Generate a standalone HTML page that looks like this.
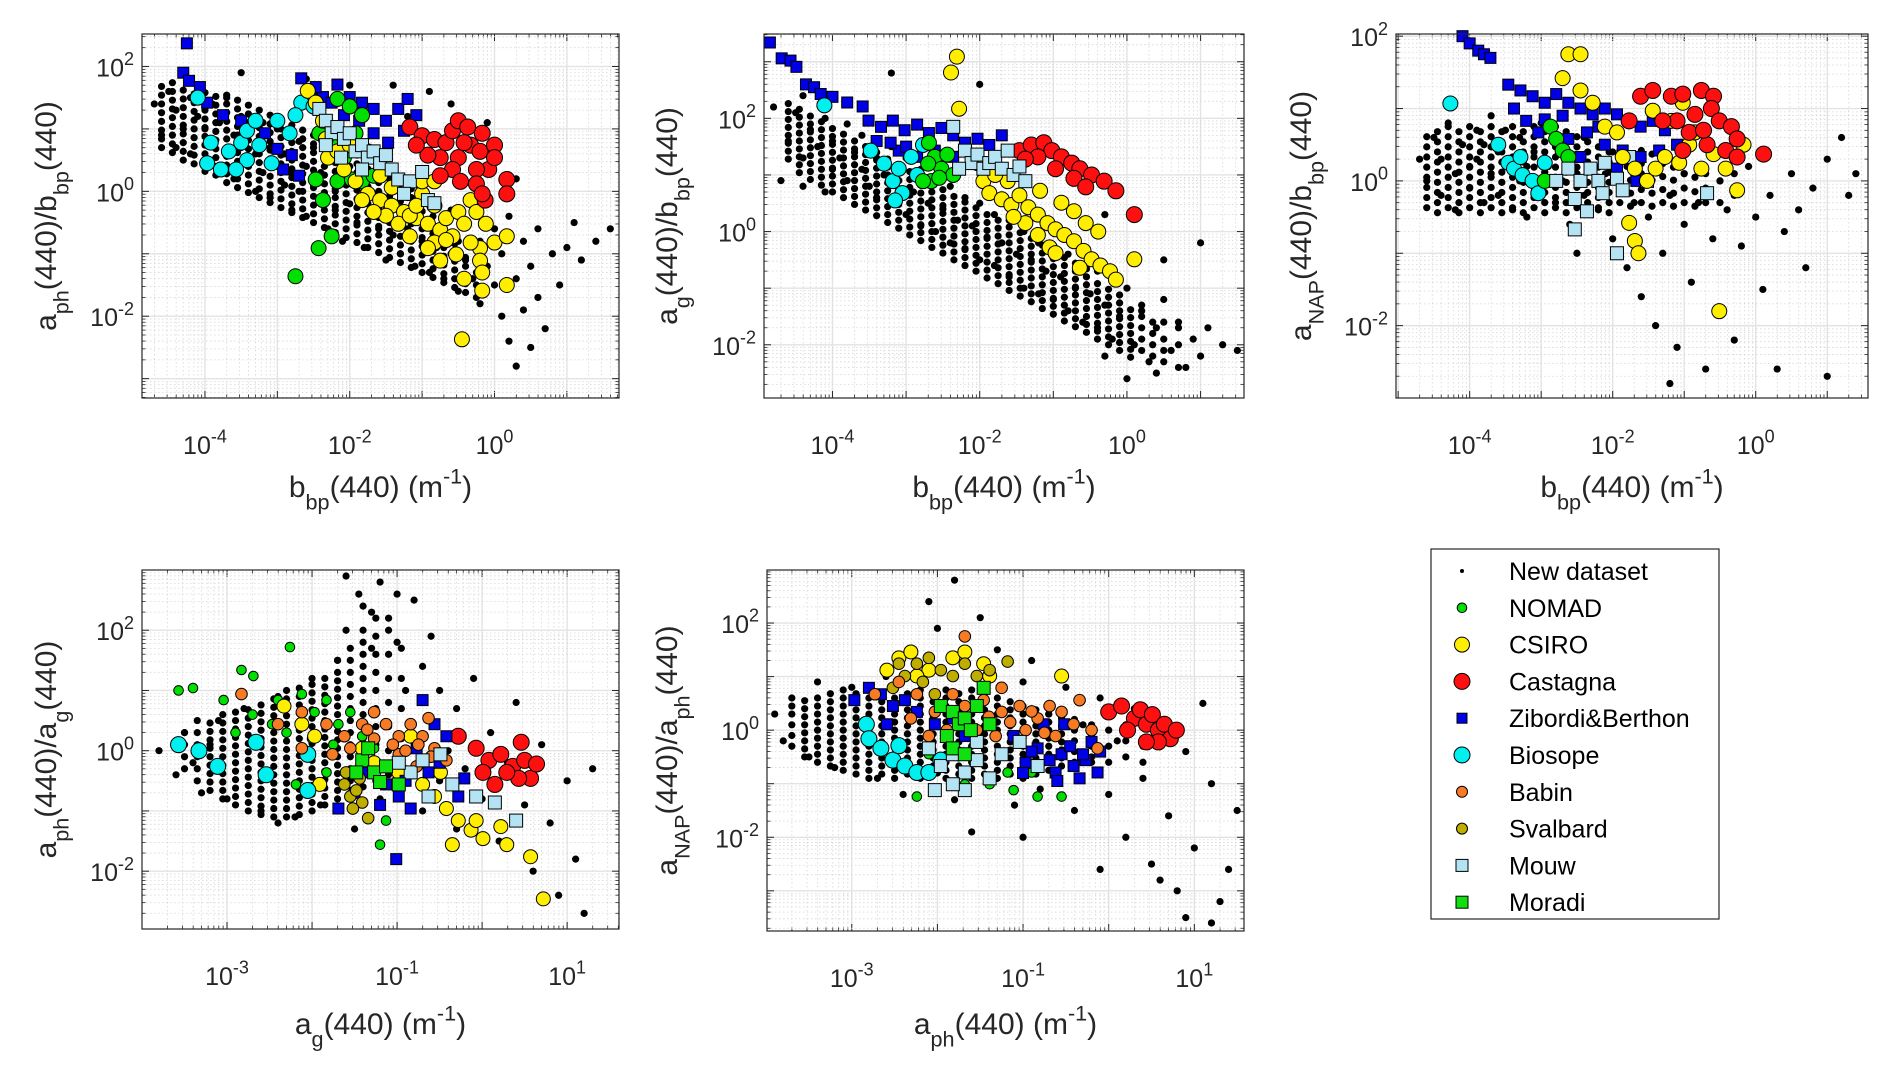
<!DOCTYPE html>
<html><head><meta charset="utf-8"><style>
html,body{margin:0;padding:0;background:#fff;}
svg{display:block;font-family:"Liberation Sans",sans-serif;}
</style></head><body>
<svg id="fig" width="1892" height="1079" viewBox="0 0 1892 1079" xmlns="http://www.w3.org/2000/svg"></svg>
<script>
// ---------- DATA (log10 values) ----------
const p1_new=[[-4.7,1.4],[-4.6,0.9],[-4.5,1.6],[-4.4,0.7],[-4.4,1.3],[-4.3,1.0],[-4.2,1.5],[-4.2,0.6],[-4.1,1.2],[-4.0,0.5],[-4.0,1.0],[-3.9,1.4],[-3.9,0.8],[-3.8,0.3],[-3.8,1.1],[-3.7,0.6],[-3.7,1.5],[-3.6,0.9],[-3.6,0.2],[-3.5,0.7],[-3.5,1.2],[-3.4,0.4],[-3.4,0.9],[-3.3,0.0],[-3.3,0.6],[-3.2,1.1],[-3.2,0.3],[-3.1,0.7],[-3.1,-0.1],[-3.0,0.4],[-3.0,1.0],[-2.9,0.1],[-2.9,0.6],[-2.8,-0.3],[-2.8,0.3],[-2.7,0.8],[-2.7,0.0],[-2.6,0.4],[-2.6,-0.4],[-2.5,0.1],[-2.5,0.7],[-2.4,-0.2],[-2.4,0.3],[-2.3,-0.6],[-2.3,0.5],[-2.2,0.0],[-2.2,-0.3],[-2.1,0.3],[-2.1,-0.8],[-2.0,-0.2],[-2.0,0.4],[-1.9,-0.5],[-1.9,0.1],[-1.8,-0.9],[-1.8,0.0],[-1.7,-0.3],[-1.7,0.5],[-1.6,-0.6],[-1.6,-0.1],[-1.5,-1.1],[-1.5,-0.3],[-1.4,0.2],[-1.4,-0.7],[-1.3,-0.4],[-1.3,-1.0],[-1.2,-0.1],[-1.2,-0.6],[-1.1,-1.2],[-1.1,-0.4],[-1.0,-0.8],[-1.0,0.0],[-0.9,-0.5],[-0.9,-1.3],[-0.8,-0.9],[-0.8,-0.2],[-0.7,-0.6],[-0.7,-1.4],[-0.6,-1.0],[-0.6,-0.3],[-0.5,-0.8],[-0.5,-1.6],[-0.4,-1.1],[-0.4,-0.5],[-0.3,-1.4],[-0.2,-0.8],[-0.2,-1.8],[-0.1,-1.2],[0.0,-0.6],[0.0,-1.5],[0.1,-2.0],[0.1,-1.0],[0.2,-2.4],[0.2,-0.4],[0.3,-1.4],[0.3,-2.8],[0.4,-1.9],[0.4,-0.8],[0.5,-2.5],[0.5,-1.2],[0.6,-0.6],[0.6,-1.7],[0.7,-2.2],[0.8,-1.0],[0.9,-1.5],[1.0,-0.9],[1.1,-0.5],[1.2,-1.1],[1.4,-0.8],[1.6,-0.6],[-3.5,1.9],[-2.6,1.8],[-1.4,1.7],[-0.9,1.6],[-0.6,1.4],[-0.3,1.0],[0.0,0.5],[0.3,0.2],[-2.0,1.7],[-1.2,1.2],[-0.1,1.1]];
const p1_core="-4.6:0.7,0.84,0.98,1.12,1.26,1.4,1.54,1.68;-4.45:0.62,0.76,0.9,1.04,1.18,1.32,1.46,1.6,1.74;-4.3:0.5,0.64,0.78,0.92,1.06,1.2,1.34,1.48,1.62;-4.15:0.44,0.58,0.72,0.86,1.0,1.14,1.28,1.42,1.56;-4.0:0.32,0.46,0.6,0.74,0.88,1.02,1.16,1.3,1.44,1.58;-3.85:0.26,0.4,0.54,0.68,0.82,0.96,1.1,1.24,1.38,1.52;-3.7:0.14,0.28,0.42,0.56,0.7,0.84,0.98,1.12,1.26,1.4,1.54;-3.55:0.06,0.2,0.34,0.48,0.62,0.76,0.9,1.04,1.18,1.32,1.46;-3.4:-0.02,0.12,0.26,0.4,0.54,0.68,0.82,0.96,1.1,1.24,1.38;-3.25:-0.1,0.04,0.18,0.32,0.46,0.6,0.74,0.88,1.02,1.16,1.3;-3.1:-0.18,-0.04,0.1,0.24,0.38,0.52,0.66,0.8,0.94,1.08,1.22;-2.95:-0.26,-0.12,0.02,0.16,0.3,0.44,0.58,0.72,0.86,1.0,1.14;-2.8:-0.34,-0.2,-0.06,0.08,0.22,0.36,0.5,0.64,0.78,0.92,1.06;-2.65:-0.42,-0.28,-0.14,0.0,0.14,0.28,0.42,0.56,0.7,0.84,0.98;-2.5:-0.5,-0.36,-0.22,-0.08,0.06,0.2,0.34,0.48,0.62,0.76,0.9;-2.35:-0.58,-0.44,-0.3,-0.16,-0.02,0.12,0.26,0.4,0.54,0.68,0.82;-2.2:-0.66,-0.52,-0.38,-0.24,-0.1,0.04,0.18,0.32,0.46,0.6,0.74;-2.05:-0.74,-0.6,-0.46,-0.32,-0.18,-0.04,0.1,0.24,0.38,0.52,0.66;-1.9:-0.82,-0.68,-0.54,-0.4,-0.26,-0.12,0.02,0.16,0.3,0.44,0.58;-1.75:-0.9,-0.76,-0.62,-0.48,-0.34,-0.2,-0.06,0.08,0.22,0.36,0.5;-1.6:-0.98,-0.84,-0.7,-0.56,-0.42,-0.28,-0.14,0.0,0.14,0.28,0.42;-1.45:-1.06,-0.92,-0.78,-0.64,-0.5,-0.36,-0.22,-0.08,0.06,0.2,0.34;-1.3:-1.14,-1.0,-0.86,-0.72,-0.58,-0.44,-0.3,-0.16,-0.02,0.12;-1.15:-1.22,-1.08,-0.94,-0.8,-0.66,-0.52,-0.38,-0.24,-0.1,0.04;-1.0:-1.3,-1.16,-1.02,-0.88,-0.74,-0.6,-0.46,-0.32,-0.18;-0.85:-1.38,-1.24,-1.1,-0.96,-0.82,-0.68,-0.54,-0.4;-0.7:-1.46,-1.32,-1.18,-1.04,-0.9,-0.76,-0.62;-0.55:-1.54,-1.4,-1.26,-1.12,-0.98,-0.84;-0.4:-1.62,-1.48,-1.34,-1.2,-1.06;-0.25:-1.7,-1.5,-1.3";
const p1_zib=[[-4.25,2.37],[-4.3,1.9],[-4.22,1.77],[-4.07,1.67],[-3.97,1.42],[-3.75,1.22],[-3.5,1.13],[-3.17,0.93],[-3.0,0.68],[-2.92,0.35],[-2.7,0.25],[-2.8,0.58],[-2.67,1.81],[-2.53,1.61],[-2.37,1.51],[-2.25,1.42],[-2.0,1.51],[-1.83,1.42],[-1.67,1.32],[-1.5,1.13],[-1.33,1.32],[-1.2,1.48],[-1.08,1.22],[-1.25,0.97],[-1.47,0.78],[-1.67,0.93],[-1.87,1.13],[-2.08,1.22],[-2.17,1.71],[-2.47,1.67]];
const p1_bio=[[-4.1,1.5],[-3.92,0.78],[-3.97,0.45],[-3.78,0.35],[-3.67,0.64],[-3.5,0.78],[-3.42,0.97],[-3.3,1.13],[-3.42,0.5],[-3.25,0.74],[-3.57,0.35],[-3.0,1.13],[-2.83,0.93],[-2.67,1.42],[-2.75,1.22],[-3.08,0.45],[-2.5,1.36]];
const p1_nomad=[[-2.75,-1.36],[-2.43,-0.91],[-2.25,-0.72],[-2.47,0.19],[-2.37,-0.14],[-2.17,0.16],[-1.97,0.19],[-1.83,0.16],[-1.67,0.25],[-2.08,0.54],[-2.25,0.74],[-2.42,0.93],[-2.17,1.48],[-2.0,1.36],[-1.83,1.22],[-1.92,0.93],[-1.75,0.64]];
const p1_csiro=[[-2.58,1.61],[-2.47,1.42],[-2.37,1.13],[-2.33,0.84],[-2.3,0.54],[-2.08,0.35],[-1.92,0.16],[-1.75,-0.04],[-1.58,-0.14],[-1.42,-0.23],[-1.25,-0.33],[-1.08,-0.43],[-0.92,-0.52],[-0.75,-0.62],[-0.67,-0.43],[-0.5,-0.33],[-0.83,-0.23],[-1.0,-0.04],[-1.17,-0.72],[-1.33,-0.52],[-1.5,-0.39],[-1.67,-0.33],[-1.83,-0.14],[-0.83,-0.82],[-0.58,-0.72],[-0.42,-0.52],[-0.33,-0.14],[-0.25,-0.33],[-0.12,-0.52],[0,-0.82],[-0.2,-0.91],[-0.2,-1.11],[-0.17,-1.3],[-0.42,-1.4],[0.17,-0.72],[0.17,-1.5],[-0.17,-1.59],[-0.45,-2.37],[-1.17,-0.39],[-1.42,0.06],[-1.58,0.25],[-1.0,0.16],[-0.83,0.16],[-2.17,0.64],[-2.0,0.74],[-1.08,-0.23],[-0.67,-0.78],[-0.92,-0.91],[-0.75,-1.11],[-0.53,-1.01],[-0.33,-0.82]];
const p1_cast=[[-1.17,1.03],[-1.0,0.89],[-0.83,0.83],[-0.67,0.78],[-0.58,0.97],[-0.5,0.54],[-0.33,0.74],[-0.17,0.93],[-0.2,0.64],[0.0,0.74],[-0.08,0.35],[-0.25,0.35],[-0.42,0.78],[-0.75,0.54],[-0.92,0.58],[-0.58,0.35],[-0.25,0.12],[-0.13,-0.14],[0.17,0.19],[0.17,-0.04],[-0.17,-0.04],[-0.75,0.25],[-1.08,0.74],[-0.5,1.13],[-0.37,1.03],[0,0.54],[-0.47,0.16]];
const p1_mouw=[[-2.42,1.32],[-2.33,1.13],[-2.25,0.93],[-2.17,1.03],[-2.08,0.84],[-2.0,0.93],[-1.92,0.64],[-1.83,0.74],[-1.75,0.54],[-1.67,0.64],[-1.58,0.45],[-1.5,0.58],[-1.42,0.35],[-1.33,0.19],[-1.17,0.16],[-1.0,0.31],[-0.92,-0.14],[-0.83,-0.19],[-1.25,-0.04],[-1.83,0.35],[-2.33,0.74],[-2.12,0.54]];

const p2_new=[[-4.8,2.2],[-4.6,1.6],[-4.5,2.1],[-4.4,1.3],[-4.3,1.8],[-4.2,1.5],[-4.1,2.0],[-4.0,1.1],[-4.0,1.6],[-3.9,1.3],[-3.8,1.9],[-3.8,0.9],[-3.7,1.4],[-3.6,1.1],[-3.6,1.7],[-3.5,0.8],[-3.4,1.3],[-3.4,0.6],[-3.3,1.0],[-3.2,1.5],[-3.2,0.5],[-3.1,0.9],[-3.0,1.3],[-3.0,0.3],[-2.9,0.7],[-2.8,1.1],[-2.8,0.1],[-2.7,0.5],[-2.6,0.9],[-2.6,0.0],[-2.5,0.4],[-2.4,0.8],[-2.4,-0.2],[-2.3,0.2],[-2.2,0.6],[-2.2,-0.3],[-2.1,0.1],[-2.0,0.5],[-2.0,-0.5],[-1.9,-0.1],[-1.8,0.3],[-1.8,-0.6],[-1.7,-0.2],[-1.6,0.2],[-1.6,-0.8],[-1.5,-0.4],[-1.4,0.0],[-1.4,-1.0],[-1.3,-0.5],[-1.2,-0.2],[-1.2,-1.1],[-1.1,-0.7],[-1.0,-0.3],[-1.0,-1.2],[-0.9,-0.8],[-0.8,-0.4],[-0.8,-1.4],[-0.7,-1.0],[-0.6,-0.6],[-0.6,-1.6],[-0.5,-1.1],[-0.4,-0.7],[-0.4,-1.7],[-0.3,-1.3],[-0.2,-0.8],[-0.2,-1.9],[-0.1,-1.5],[0.0,-1.0],[0.1,-2.0],[0.2,-1.4],[0.3,-2.3],[0.4,-1.7],[0.5,-1.2],[0.6,-2.1],[0.7,-1.6],[0.8,-2.4],[0.9,-1.9],[1.0,-2.2],[1.1,-1.7],[1.3,-2.0],[1.5,-2.1],[0.4,-2.5],[0.0,-2.6],[-0.3,-2.2],[-3.2,2.8],[-2.0,2.6],[-4.4,2.4],[-1.0,1.5],[-0.3,0.3],[0.5,-0.5],[1.0,-0.2],[-4.7,0.9],[-4.4,0.8],[-4.1,0.7]];
const p2_core="-4.6:1.28,1.42,1.56,1.7,1.84,1.98,2.12,2.26;-4.45:1.04,1.18,1.32,1.46,1.6,1.74,1.88,2.02,2.16;-4.3:0.92,1.06,1.2,1.34,1.48,1.62,1.76,1.9,2.04;-4.15:0.82,0.96,1.1,1.24,1.38,1.52,1.66,1.8,1.94;-4.0:0.7,0.84,0.98,1.12,1.26,1.4,1.54,1.68,1.82;-3.85:0.6,0.74,0.88,1.02,1.16,1.3,1.44,1.58,1.72;-3.7:0.48,0.62,0.76,0.9,1.04,1.18,1.32,1.46,1.6;-3.55:0.38,0.52,0.66,0.8,0.94,1.08,1.22,1.36,1.5;-3.4:0.28,0.42,0.56,0.7,0.84,0.98,1.12,1.26,1.4;-3.25:0.16,0.3,0.44,0.58,0.72,0.86,1.0,1.14,1.28;-3.1:0.06,0.2,0.34,0.48,0.62,0.76,0.9,1.04,1.18;-2.95:-0.06,0.08,0.22,0.36,0.5,0.64,0.78,0.92,1.06;-2.8:-0.16,-0.02,0.12,0.26,0.4,0.54,0.68,0.82,0.96;-2.65:-0.28,-0.14,0.0,0.14,0.28,0.42,0.56,0.7,0.84;-2.5:-0.38,-0.24,-0.1,0.04,0.18,0.32,0.46,0.6,0.74;-2.35:-0.5,-0.36,-0.22,-0.08,0.06,0.2,0.34,0.48,0.62;-2.2:-0.6,-0.46,-0.32,-0.18,-0.04,0.1,0.24,0.38,0.52;-2.05:-0.7,-0.56,-0.42,-0.28,-0.14,0.0,0.14,0.28,0.42;-1.9:-0.82,-0.68,-0.54,-0.4,-0.26,-0.12,0.02,0.16,0.3;-1.75:-0.92,-0.78,-0.64,-0.5,-0.36,-0.22,-0.08,0.06,0.2;-1.6:-1.04,-0.9,-0.76,-0.62,-0.48,-0.34,-0.2,-0.06,0.08;-1.45:-1.14,-1.0,-0.86,-0.72,-0.58,-0.44,-0.3,-0.16,-0.02;-1.3:-1.24,-1.1,-0.96,-0.82,-0.68,-0.54,-0.4,-0.26,-0.12;-1.15:-1.36,-1.22,-1.08,-0.94,-0.8,-0.66,-0.52,-0.38,-0.24;-1.0:-1.46,-1.32,-1.18,-1.04,-0.9,-0.76,-0.62,-0.48,-0.34;-0.85:-1.58,-1.44,-1.3,-1.16,-1.02,-0.88,-0.74,-0.6,-0.46;-0.7:-1.68,-1.54,-1.4,-1.26,-1.12,-0.98,-0.84,-0.7,-0.56;-0.55:-1.78,-1.64,-1.5,-1.36,-1.22,-1.08,-0.94,-0.8,-0.66;-0.4:-1.9,-1.76,-1.62,-1.48,-1.34,-1.2,-1.06,-0.92;-0.25:-2.0,-1.86,-1.72,-1.58,-1.44,-1.3,-1.16,-1.02;-0.1:-2.1,-1.96,-1.82,-1.68,-1.54,-1.4,-1.26,-1.12;0.05:-2.22,-2.08,-1.94,-1.8,-1.66,-1.52,-1.38;0.2:-2.1,-1.9,-1.7,-1.5,-1.3;0.35:-2.2,-2.0,-1.8,-1.6;0.5:-2.3,-2.1,-1.9,-1.6;0.7:-2.4,-2.0,-1.7";
const p2_zib=[[-4.85,3.34],[-4.69,3.06],[-4.57,3.02],[-4.49,2.91],[-4.36,2.6],[-4.25,2.55],[-4.16,2.43],[-4.0,2.38],[-3.8,2.28],[-3.59,2.21],[-3.51,1.96],[-3.34,1.85],[-3.18,1.96],[-3.02,1.79],[-2.85,1.89],[-2.69,1.74],[-2.52,1.83],[-2.36,1.7],[-2.2,1.57],[-2.03,1.64],[-1.87,1.53],[-1.7,1.7],[-3.1,1.43],[-2.85,1.32],[-2.61,1.43],[-2.36,1.32],[-2.11,1.36],[-3.21,1.57],[-3.4,1.6],[-3.0,1.5],[-2.75,1.55]];
const p2_bio=[[-4.11,2.23],[-3.48,1.43],[-3.18,0.89],[-3.1,1.11],[-2.93,1.32],[-3.05,0.68],[-2.77,1.53],[-2.85,1.0],[-3.3,1.2],[-3.15,0.55]];
const p2_nomad=[[-2.69,1.57],[-2.61,1.32],[-2.52,1.11],[-2.66,0.89],[-2.77,0.89],[-2.44,1.36],[-2.36,1.0],[-2.7,1.2],[-2.55,0.95]];
const p2_mouw=[[-2.36,1.85],[-2.2,1.43],[-2.11,1.21],[-2.03,1.36],[-1.95,1.11],[-1.87,1.21],[-1.79,1.32],[-1.7,1.11],[-1.62,1.43],[-1.54,1.0],[-1.46,1.15],[-2.28,1.11],[-1.38,0.89]];
const p2_cast=[[-1.46,1.43],[-1.3,1.53],[-1.13,1.57],[-1.02,1.43],[-0.89,1.32],[-0.75,1.21],[-0.64,1.11],[-0.48,1.0],[-0.31,0.89],[-0.15,0.72],[0.1,0.3],[-1.21,1.32],[-0.97,1.11],[-0.72,0.94],[-0.56,0.79],[-1.38,1.28]];
const p2_csiro=[[-2.31,3.09],[-2.39,2.81],[-2.28,2.17],[-2.03,1.21],[-1.95,0.89],[-1.87,0.68],[-1.7,0.57],[-1.57,0.47],[-1.46,0.64],[-1.34,0.43],[-1.21,0.3],[-1.08,0.15],[-0.97,0.04],[-0.85,-0.06],[-0.72,-0.17],[-0.59,-0.34],[-0.48,-0.49],[-0.36,-0.6],[-0.23,-0.7],[-0.15,-0.85],[0.1,-0.49],[-1.05,-0.28],[-1.21,-0.06],[-1.38,0.15],[-1.54,0.26],[-0.89,0.51],[-0.72,0.36],[-0.56,0.15],[-0.39,0.0],[-1.62,0.89],[-1.79,1.0],[-1.18,0.72],[-0.97,-0.38],[-0.64,-0.64]];

const p3_new=[[-4.7,0.3],[-4.6,0.0],[-4.5,0.6],[-4.4,-0.2],[-4.4,0.3],[-4.3,0.8],[-4.2,0.1],[-4.2,-0.4],[-4.1,0.5],[-4.0,0.2],[-4.0,-0.1],[-3.9,0.7],[-3.9,0.3],[-3.8,-0.3],[-3.8,0.5],[-3.7,0.1],[-3.7,0.9],[-3.6,0.4],[-3.6,-0.2],[-3.5,0.2],[-3.5,0.7],[-3.4,-0.4],[-3.4,0.3],[-3.3,0.0],[-3.3,0.6],[-3.2,0.2],[-3.2,-0.5],[-3.1,0.4],[-3.0,-0.1],[-3.0,0.8],[-2.9,0.2],[-2.8,-0.3],[-2.8,0.5],[-2.7,0.0],[-2.6,0.3],[-2.6,-0.6],[-2.5,0.1],[-2.4,-0.2],[-2.4,0.6],[-2.3,0.2],[-2.2,-0.4],[-2.1,0.1],[-2.0,-0.8],[-2.0,0.4],[-1.9,-0.1],[-1.8,-1.2],[-1.8,0.2],[-1.7,-0.3],[-1.6,-1.6],[-1.6,0.1],[-1.5,-0.5],[-1.4,-2.0],[-1.4,0.2],[-1.3,-1.0],[-1.2,-0.2],[-1.1,-2.3],[-1.0,-0.6],[-1.0,0.1],[-0.9,-1.4],[-0.8,-0.3],[-0.7,-2.6],[-0.6,-0.8],[-0.5,0.0],[-0.5,-1.8],[-0.4,-0.4],[-0.3,-2.2],[-0.2,-0.9],[-0.1,0.2],[0.0,-0.5],[0.1,-1.5],[0.2,-0.2],[0.3,-2.6],[0.4,-0.7],[0.5,0.1],[0.6,-0.4],[0.7,-1.2],[0.8,-0.1],[1.0,0.3],[1.0,-2.7],[1.2,0.6],[1.3,-0.2],[1.4,0.1],[-1.2,-2.8],[-2.5,-1.0]];
const p3_core="-4.6:-0.37,-0.23,-0.09,0.05,0.19,0.33,0.47,0.61;-4.45:-0.44,-0.3,-0.16,-0.02,0.12,0.26,0.4,0.54,0.68;-4.3:-0.37,-0.23,-0.09,0.05,0.19,0.33,0.47,0.61,0.75;-4.15:-0.44,-0.3,-0.16,-0.02,0.12,0.26,0.4,0.54,0.68;-4.0:-0.37,-0.23,-0.09,0.05,0.19,0.33,0.47,0.61,0.75;-3.85:-0.44,-0.3,-0.16,-0.02,0.12,0.26,0.4,0.54,0.68;-3.7:-0.37,-0.23,-0.09,0.05,0.19,0.33,0.47,0.61,0.75;-3.55:-0.44,-0.3,-0.16,-0.02,0.12,0.26,0.4,0.54,0.68;-3.4:-0.37,-0.23,-0.09,0.05,0.19,0.33,0.47,0.61,0.75;-3.25:-0.44,-0.3,-0.16,-0.02,0.12,0.26,0.4,0.54,0.68;-3.1:-0.37,-0.23,-0.09,0.05,0.19,0.33,0.47,0.61,0.75;-2.95:-0.44,-0.3,-0.16,-0.02,0.12,0.26,0.4,0.54,0.68;-2.8:-0.37,-0.23,-0.09,0.05,0.19,0.33,0.47,0.61,0.75;-2.65:-0.44,-0.3,-0.16,-0.02,0.12,0.26,0.4,0.54,0.68;-2.5:-0.37,-0.23,-0.09,0.05,0.19,0.33,0.47,0.61;-2.35:-0.44,-0.3,-0.16,-0.02,0.12,0.26,0.4,0.54;-2.2:-0.37,-0.23,-0.09,0.05,0.19,0.33,0.47;-2.05:-0.44,-0.3,-0.16,-0.02,0.12,0.26,0.4;-1.9:-0.3,-0.12,0.06,0.24,0.42;-1.75:-0.35,-0.17,0.01,0.19,0.37;-1.6:-0.3,-0.12,0.06,0.24,0.42;-1.45:-0.35,-0.17,0.01,0.19,0.37;-1.3:-0.3,-0.12,0.06,0.24;-1.15:-0.35,-0.17,0.01,0.19;-1.0:-0.3,-0.1,0.1;-0.85:-0.35,-0.15,0.05;-0.7:-0.3,-0.1,0.1;-0.5:-0.3,0.0;-0.3:-0.2,0.1";
const p3_zib=[[-4.1,2.0],[-4.0,1.9],[-3.88,1.8],[-3.8,1.75],[-3.71,1.7],[-3.46,1.33],[-3.29,1.25],[-3.12,1.17],[-2.95,1.08],[-2.79,1.2],[-2.62,1.08],[-2.45,1.0],[-2.28,0.92],[-2.11,1.0],[-1.94,0.92],[-1.77,0.83],[-1.61,0.75],[-1.44,0.83],[-1.27,0.7],[-3.38,1.0],[-3.21,0.83],[-3.04,0.67],[-2.87,0.75],[-2.62,0.58],[-2.36,0.67],[-2.11,0.5],[-1.86,0.42],[-1.61,0.33],[-1.35,0.42],[-1.1,0.5],[-2.45,0.33],[-1.94,0.17],[-1.67,0.0],[-2.95,0.85],[-2.7,0.9],[-2.2,0.75]];
const p3_bio=[[-4.27,1.07],[-3.6,0.5],[-3.46,0.25],[-3.38,0.17],[-3.26,0.08],[-3.12,0.0],[-3.04,-0.17],[-3.29,0.33],[-2.95,0.25]];
const p3_csiro=[[-2.62,1.75],[-2.45,1.75],[-2.7,1.42],[-2.45,1.25],[-2.28,1.08],[-2.11,0.75],[-1.94,0.67],[-1.86,0.33],[-1.69,0.17],[-1.52,0.0],[-1.4,0.17],[-1.27,0.33],[-1.07,0.25],[-0.93,0.5],[-0.76,0.17],[-0.59,0.37],[-0.42,0.17],[-0.26,-0.13],[-1.77,-0.58],[-1.69,-0.83],[-1.64,-1.0],[-0.51,-1.8],[-1.44,0.97],[-1.18,0.83],[-1.02,1.08],[-0.85,0.67],[-0.17,0.5]];
const p3_cast=[[-1.61,1.17],[-1.44,1.25],[-1.18,1.17],[-1.02,1.2],[-0.76,1.25],[-0.59,1.17],[-0.62,1.0],[-0.85,0.92],[-1.1,0.83],[-1.3,0.83],[-0.51,0.83],[-0.34,0.75],[-0.26,0.58],[-0.93,0.67],[-0.68,0.5],[-1.02,0.42],[-0.42,0.42],[-0.73,0.7],[0.11,0.37],[-0.26,0.33],[-1.77,0.83]];
const p3_mouw=[[-2.62,0.17],[-2.45,0.0],[-2.31,0.17],[-2.2,0.0],[-2.11,0.25],[-1.94,0.03],[-2.53,-0.25],[-2.36,-0.42],[-2.14,-0.17],[-1.86,-0.13],[-1.52,0.0],[-1.94,-1.0],[-2.53,-0.67],[-0.68,-0.17],[-1.77,0.33],[-2.79,0.0]];
const p3_nomad=[[-2.87,0.75],[-2.79,0.58],[-2.7,0.42],[-2.95,0.0],[-2.62,0.33]];

const p4_new=[[-3.8,0.0],[-3.6,-0.4],[-3.5,0.3],[-3.4,-0.2],[-3.3,-0.7],[-3.2,0.1],[-3.1,0.5],[-3.0,-0.8],[-2.8,0.7],[-2.6,-1.0],[-2.4,0.9],[-2.2,-1.1],[-2.0,1.2],[-1.9,-0.9],[-1.7,1.5],[-1.6,2.0],[-1.4,2.4],[-1.3,1.7],[-1.2,2.8],[-1.2,-0.8],[-1.1,2.2],[-1.0,1.8],[-0.9,-0.3],[-0.9,1.0],[-0.8,2.5],[-0.8,0.2],[-0.7,-1.0],[-0.7,1.4],[-0.6,0.5],[-0.5,-0.5],[-0.5,1.0],[-0.4,0.0],[-0.3,-1.3],[-0.3,0.7],[-0.2,-0.3],[-0.1,1.2],[0.0,-0.8],[0.1,0.3],[0.2,-1.5],[0.3,-0.2],[0.4,0.8],[0.5,-0.9],[0.6,-2.0],[0.7,0.1],[0.8,-1.2],[0.9,-2.4],[1.0,-0.5],[1.1,-1.8],[1.2,-2.7],[1.3,-0.3],[-1.5,-1.3],[-2.4,-1.2],[-1.3,2.3],[-1.6,2.9],[-1.0,2.6],[-0.6,1.9],[-1.45,2.6]];
const p4_core="-3.5:-0.3,-0.1,0.1,0.3;-3.35:-0.5,-0.3,-0.1,0.1,0.3,0.5;-3.2:-0.66,-0.52,-0.38,-0.24,-0.1,0.04,0.18,0.32,0.46;-3.05:-0.8,-0.66,-0.52,-0.38,-0.24,-0.1,0.04,0.18,0.32,0.46,0.6;-2.9:-0.9,-0.76,-0.62,-0.48,-0.34,-0.2,-0.06,0.08,0.22,0.36,0.5,0.64;-2.75:-1.0,-0.86,-0.72,-0.58,-0.44,-0.3,-0.16,-0.02,0.12,0.26,0.4,0.54,0.68;-2.6:-1.06,-0.92,-0.78,-0.64,-0.5,-0.36,-0.22,-0.08,0.06,0.2,0.34,0.48,0.62,0.76;-2.45:-1.1,-0.96,-0.82,-0.68,-0.54,-0.4,-0.26,-0.12,0.02,0.16,0.3,0.44,0.58,0.72,0.86;-2.3:-1.1,-0.96,-0.82,-0.68,-0.54,-0.4,-0.26,-0.12,0.02,0.16,0.3,0.44,0.58,0.72,0.86,1.0;-2.15:-1.06,-0.92,-0.78,-0.64,-0.5,-0.36,-0.22,-0.08,0.06,0.2,0.34,0.48,0.62,0.76,0.9,1.04;-2.0:-1.0,-0.86,-0.72,-0.58,-0.44,-0.3,-0.16,-0.02,0.12,0.26,0.4,0.54,0.68,0.82,0.96,1.1;-1.85:-0.9,-0.76,-0.62,-0.48,-0.34,-0.2,-0.06,0.08,0.22,0.36,0.5,0.64,0.78,0.92,1.06,1.2;-1.7:-0.8,-0.66,-0.52,-0.38,-0.24,-0.1,0.04,0.18,0.32,0.46,0.6,0.74,0.88,1.02,1.16,1.3,1.5;-1.55:-0.7,-0.5,-0.3,-0.1,0.1,0.3,0.5,0.7,0.9,1.1,1.3,1.5,1.7;-1.4:-0.6,-0.4,-0.2,0.0,0.2,0.4,0.6,0.8,1.0,1.2,1.4,1.6,1.8,2.0;-1.25:-0.5,-0.2,0.1,0.4,0.7,1.0,1.3,1.6,1.9,2.2;-1.1:-0.4,0.0,0.4,0.8,1.2,1.6,2.0;-0.95:-0.3,0.2,0.7,1.2,1.7";
const p4_nomad=[[-3.57,1.0],[-3.4,1.04],[-3.04,0.84],[-2.83,1.34],[-2.69,1.24],[-2.26,1.72],[-2.4,0.84],[-2.12,0.94],[-1.97,0.64],[-1.83,0.84],[-1.69,0.44],[-1.55,0.64],[-1.41,0.24],[-1.27,0.04],[-2.47,0.44],[-2.62,0.14],[-1.83,-0.36],[-2.19,-0.56],[-1.13,-1.16],[-1.2,-1.56],[-2.9,0.3],[-2.7,0.6],[-2.3,0.3],[-2.0,0.2],[-1.75,0.1]];
const p4_csiro=[[-2.12,0.44],[-1.97,0.24],[-1.91,-0.56],[-1.41,0.04],[-1.27,-0.2],[-0.84,0.24],[-0.7,-0.56],[-0.56,-0.76],[-0.42,-0.96],[-0.28,-1.16],[-0.13,-1.32],[0.01,-1.46],[-0.35,-1.56],[-0.07,-1.16],[0.29,-1.56],[0.57,-1.76],[0.72,-2.46],[-0.49,-0.36],[-0.98,-0.36],[-2.33,0.74],[0.22,-1.26]];
const p4_cast=[[-0.28,0.24],[-0.07,0.04],[0.08,-0.16],[0.22,-0.06],[0.36,-0.26],[0.5,-0.16],[0.57,-0.46],[0.43,-0.46],[0.29,-0.36],[0.15,-0.56],[0.46,0.14],[0.64,-0.22],[0.01,-0.36]];
const p4_zib=[[-0.98,-0.76],[-0.7,0.84],[-0.56,0.44],[-0.42,0.24],[-0.77,0.04],[-0.63,-0.36],[-0.84,-0.96],[-1.13,-0.56],[-1.41,-0.36],[-0.28,-0.76],[-0.21,-0.46],[-1.01,-1.8],[-1.69,-0.96],[-1.5,-0.7],[-1.2,-0.9],[-0.9,-0.5],[-0.5,-0.2]];
const p4_bio=[[-3.57,0.1],[-3.33,0.0],[-3.11,-0.26],[-2.66,0.14],[-2.54,-0.4],[-2.05,-0.66],[-2.05,-0.06]];
const p4_babin=[[-2.4,0.44],[-2.12,0.64],[-1.83,0.44],[-1.62,0.24],[-1.41,0.44],[-1.27,0.64],[-1.13,0.44],[-0.98,0.24],[-0.84,0.44],[-0.7,0.24],[-0.56,0.04],[-0.42,-0.16],[-1.55,0.04],[-1.27,0.2],[-0.98,-0.06],[-0.63,0.54],[-1.76,-0.06],[-2.12,0.04],[-2.83,0.94],[-0.77,-0.26],[-1.05,0.1],[-0.9,0.0],[-0.75,0.1],[-0.6,-0.1],[-1.35,0.35]];
const p4_sval=[[-1.62,-0.56],[-1.55,-0.76],[-1.48,-0.66],[-1.41,-0.86],[-1.52,-0.96],[-1.44,-0.46],[-1.34,-1.12],[-1.6,-0.36]];
const p4_mouw=[[-0.84,-0.36],[-0.7,-0.16],[-0.49,-0.06],[-0.35,-0.56],[-0.07,-0.76],[0.15,-0.86],[0.4,-1.16],[-0.63,-0.76],[-0.98,-0.2]];
const p4_moradi=[[-1.41,-0.16],[-1.27,-0.36],[-1.13,-0.26],[-1.2,-0.52],[-1.34,0.04],[-0.98,-0.56],[-1.48,-0.36]];

const p5_new=[[-3.9,0.3],[-3.8,-0.2],[-3.7,0.6],[-3.5,-0.5],[-3.4,0.9],[-3.2,-0.7],[-3.0,0.8],[-2.7,-0.9],[-2.6,1.0],[-2.4,-1.2],[-2.3,1.4],[-2.1,2.4],[-2.0,-0.8],[-2.0,1.9],[-1.8,2.8],[-1.8,-1.3],[-1.7,1.2],[-1.5,2.1],[-1.4,-1.0],[-1.3,1.5],[-1.1,-1.4],[-1.0,0.9],[-0.9,1.3],[-0.8,-1.1],[-0.7,0.3],[-0.6,-0.8],[-0.5,0.8],[-0.4,-1.5],[-0.3,0.1],[-0.2,-0.6],[-0.1,0.6],[0.0,-1.2],[0.1,-0.2],[0.2,-2.0],[0.3,0.4],[0.4,-0.9],[0.5,-2.5],[0.6,0.0],[0.7,-1.6],[0.8,-3.0],[0.9,-0.4],[1.0,-2.2],[1.1,0.5],[1.2,-1.0],[1.3,-3.2],[1.4,-2.6],[1.5,-1.5],[0.9,-3.5],[0.6,-2.8],[-0.1,-2.6],[-1.0,-2.0],[-1.6,-1.9],[1.2,-3.6]];
const p5_core="-3.7:-0.3,-0.1,0.1,0.3,0.45;-3.55:-0.5,-0.35,-0.2,-0.05,0.1,0.25,0.4,0.55;-3.4:-0.6,-0.45,-0.3,-0.15,0,0.15,0.3,0.45,0.6;-3.25:-0.67,-0.52,-0.37,-0.22,-0.07,0.08,0.23,0.38,0.53,0.68;-3.1:-0.75,-0.6,-0.45,-0.3,-0.15,0,0.15,0.3,0.45,0.6,0.75;-2.95:-0.82,-0.67,-0.52,-0.37,-0.22,-0.07,0.08,0.23,0.38,0.53,0.68;-2.8:-0.9,-0.75,-0.6,-0.45,-0.3,-0.15,0,0.15,0.3,0.45,0.6,0.75;-2.65:-0.82,-0.67,-0.52,-0.37,-0.22,-0.07,0.08,0.23,0.38,0.53,0.68;-2.5:-0.9,-0.75,-0.6,-0.45,-0.3,-0.15,0,0.15,0.3,0.45,0.6,0.75;-2.35:-0.82,-0.67,-0.52,-0.37,-0.22,-0.07,0.08,0.23,0.38,0.53,0.68;-2.2:-0.9,-0.75,-0.6,-0.45,-0.3,-0.15,0,0.15,0.3,0.45,0.6,0.75;-2.05:-0.82,-0.67,-0.52,-0.37,-0.22,-0.07,0.08,0.23,0.38,0.53,0.68;-1.9:-0.9,-0.75,-0.6,-0.45,-0.3,-0.15,0,0.15,0.3,0.45,0.6,0.75;-1.75:-0.82,-0.67,-0.52,-0.37,-0.22,-0.07,0.08,0.23,0.38,0.53,0.68;-1.6:-0.9,-0.75,-0.6,-0.45,-0.3,-0.15,0,0.15,0.3,0.45,0.6,0.75;-1.45:-0.82,-0.67,-0.52,-0.37,-0.22,-0.07,0.08,0.23,0.38,0.53,0.68;-1.3:-0.9,-0.75,-0.6,-0.45,-0.3,-0.15,0,0.15,0.3,0.45,0.6;-1.15:-0.82,-0.67,-0.52,-0.37,-0.22,-0.07,0.08,0.23,0.38,0.53;-1.0:-0.9,-0.75,-0.6,-0.45,-0.3,-0.15,0,0.15,0.3,0.45;-0.85:-0.82,-0.67,-0.52,-0.37,-0.22,-0.07,0.08,0.23,0.38;-0.7:-0.75,-0.6,-0.45,-0.3,-0.15,0,0.15,0.3;-0.55:-0.67,-0.52,-0.37,-0.22,-0.07,0.08,0.23;-0.4:-0.6,-0.4,-0.2,0,0.2;-0.2:-0.5,-0.3,-0.1,0.1;0.0:-0.6,-0.3,0.0;0.2:-0.5,-0.2,0.1;0.4:-0.6,-0.3";
const p5_zib=[[-2.97,0.56],[-2.8,0.79],[-2.66,0.67],[-2.52,0.45],[-2.38,0.56],[-2.59,0.11],[-2.24,0.34],[-2.03,0.11],[-1.82,0.22],[-1.68,-0.11],[-1.39,0.11],[-1.11,-0.11],[-0.83,-0.34],[-0.69,-0.56],[-0.55,-0.45],[-0.41,-0.67],[-0.27,-0.56],[-0.2,-0.22],[-0.34,-0.9],[-0.62,-0.79],[-0.97,-0.61],[-1.25,-0.45],[-0.13,-0.79],[-0.76,0.11],[-0.52,0.11],[-0.9,-0.4],[-0.45,-0.3],[-0.3,-0.45],[-1.0,-0.8],[-0.6,-0.95],[-0.1,-0.4]];
const p5_cast=[[0.0,0.34],[0.15,0.45],[0.3,0.22],[0.37,0.38],[0.44,0.11],[0.51,0.29],[0.58,0.0],[0.65,0.11],[0.72,-0.16],[0.79,0.0],[0.58,-0.22],[0.22,0.0],[0.44,-0.22]];
const p5_babin=[[-2.73,0.67],[-2.45,0.9],[-2.24,0.67],[-2.03,0.34],[-1.82,0.67],[-1.68,0.45],[-1.46,0.56],[-1.25,0.34],[-1.04,0.45],[-0.83,0.22],[-0.69,0.45],[-0.55,0.34],[-0.41,0.11],[-0.34,0.56],[-0.2,0.0],[-2.1,-0.11],[-1.89,0.0],[-1.54,0.0],[-1.32,-0.11],[-0.97,0.0],[-0.62,-0.11],[-1.25,0.79],[-1.68,1.75],[-0.13,-0.34],[-2.31,0.22],[-1.15,0.15],[-0.9,0.35],[-0.75,-0.05],[-1.4,0.25],[-1.05,-0.2]];
const p5_sval=[[-2.45,1.24],[-2.38,1.01],[-2.24,1.24],[-2.1,1.35],[-1.96,1.12],[-1.82,1.01],[-2.17,0.9],[-2.52,0.79],[-1.68,1.24],[-1.54,1.01],[-1.39,1.12],[-1.18,1.28],[-2.03,0.67]];
const p5_csiro=[[-2.45,1.35],[-2.31,1.46],[-2.1,1.12],[-1.82,1.35],[-1.68,1.46],[-1.46,1.24],[-1.39,1.01],[-0.55,1.01],[-2.24,1.01],[-2.59,1.12]];
const p5_bio=[[-2.83,0.11],[-2.8,-0.16],[-2.66,-0.34],[-2.52,-0.56],[-2.38,-0.67],[-2.24,-0.79],[-2.1,-0.79],[-2.45,-0.29],[-1.96,-0.56]];
const p5_mouw=[[-2.1,-0.34],[-1.96,-0.67],[-1.82,-0.45],[-1.68,-0.79],[-1.54,-0.56],[-1.39,-0.9],[-1.68,-1.12],[-1.82,-1.01],[-1.25,-0.45],[-1.54,-0.22],[-1.04,-0.22],[-0.83,-0.67],[-2.03,-1.12]];
const p5_moradi=[[-1.96,0.45],[-1.82,0.34],[-1.75,0.11],[-1.68,0.22],[-1.61,0.0],[-1.54,0.45],[-1.46,0.79],[-1.89,-0.11],[-1.82,-0.34],[-1.68,-0.45],[-1.39,0.11]];
const p5_nomad=[[-2.8,0.11],[-2.24,-1.24],[-1.68,-1.01],[-1.39,-1.01],[-1.11,-1.12],[-0.83,-1.24],[-0.55,-1.24],[-0.9,-0.79],[-2.1,-0.45],[-1.18,-0.79]];

const legendLabels=["New dataset","NOMAD","CSIRO","Castagna","Zibordi&Berthon","Biosope","Babin","Svalbard","Mouw","Moradi"];

// parse "x:y,y;x:y" column strings into points
function parseCols(s){const out=[];s.split(';').forEach(c=>{const [x,ys]=c.split(':');ys.split(',').forEach(y=>out.push([parseFloat(x),parseFloat(y)]));});return out;}

// ---------- STYLE ----------
const NS="http://www.w3.org/2000/svg";
const svg=document.getElementById('fig');
const TXT="#262626";
const ST={
 new:{c:"#000",shape:"dot"},
 nomad:{c:"#00e000",shape:"c"},csiro:{c:"#ffee00",shape:"c"},cast:{c:"#ff1010",shape:"c"},
 zib:{c:"#0000e6",shape:"s"},bio:{c:"#00f0f0",shape:"c"},babin:{c:"#f77b25",shape:"c"},
 sval:{c:"#bfae00",shape:"c"},mouw:{c:"#b4e4f4",shape:"s"},moradi:{c:"#10e010",shape:"s"}
};
function el(tag,attrs,parent){const e=document.createElementNS(NS,tag);for(const k in attrs)e.setAttribute(k,attrs[k]);(parent||svg).appendChild(e);return e;}

const topSize={nomad:7.5,csiro:7.5,cast:8,zib:5.5,bio:7.5,mouw:6.5,babin:5.5,sval:5.5,moradi:6.5};
const botSize={nomad:4.8,csiro:7,cast:8,zib:5.5,bio:8,mouw:6.5,babin:5.8,sval:5.8,moradi:6.5};

const panels=[
 {id:"p1",L:142,R:619,T:34,B:398,xd:[-4.87,1.72],yd:[-3.31,2.52],xt:[-4,-2,0],yt:[-2,0,2],size:topSize,
  series:[["new",p1_new.concat(parseCols(p1_core))],["zib",p1_zib],["bio",p1_bio],["nomad",p1_nomad],["csiro",p1_csiro],["cast",p1_cast],["mouw",p1_mouw]],
  ylab:[["a",""],["ph","sub"],["(440)/b",""],["bp","sub"],["(440)",""]],xlab:[["b",""],["bp","sub"],["(440) (m",""],["-1","sup"],[")",""]],ylx:46,xly:497},
 {id:"p2",L:764,R:1244,T:34,B:398,xd:[-4.93,1.59],yd:[-2.94,3.49],xt:[-4,-2,0],yt:[-2,0,2],size:topSize,
  series:[["new",p2_new.concat(parseCols(p2_core))],["zib",p2_zib],["bio",p2_bio],["nomad",p2_nomad],["csiro",p2_csiro],["cast",p2_cast],["mouw",p2_mouw]],
  ylab:[["a",""],["g","sub"],["(440)/b",""],["bp","sub"],["(440)",""]],xlab:[["b",""],["bp","sub"],["(440) (m",""],["-1","sup"],[")",""]],ylx:667,xly:497},
 {id:"p3",L:1396,R:1868,T:34,B:398,xd:[-5.03,1.57],yd:[-3.0,2.03],xt:[-4,-2,0],yt:[-2,0,2],size:topSize,
  series:[["new",p3_new.concat(parseCols(p3_core))],["zib",p3_zib],["bio",p3_bio],["nomad",p3_nomad],["mouw",p3_mouw],["csiro",p3_csiro],["cast",p3_cast]],
  ylab:[["a",""],["NAP","sub"],["(440)/b",""],["bp","sub"],["(440)",""]],xlab:[["b",""],["bp","sub"],["(440) (m",""],["-1","sup"],[")",""]],ylx:1301,xly:497},
 {id:"p4",L:142,R:619,T:570,B:929,xd:[-4.0,1.61],yd:[-2.96,3.0],xt:[-3,-1,1],yt:[-2,0,2],size:botSize,
  series:[["new",p4_new.concat(parseCols(p4_core))],["nomad",p4_nomad],["csiro",p4_csiro],["cast",p4_cast],["zib",p4_zib],["bio",p4_bio],["babin",p4_babin],["sval",p4_sval],["mouw",p4_mouw],["moradi",p4_moradi]],
  ylab:[["a",""],["ph","sub"],["(440)/a",""],["g","sub"],["(440)",""]],xlab:[["a",""],["g","sub"],["(440) (m",""],["-1","sup"],[")",""]],ylx:46,xly:1034},
 {id:"p5",L:767,R:1244,T:570,B:931,xd:[-3.99,1.58],yd:[-3.75,2.99],xt:[-3,-1,1],yt:[-2,0,2],size:botSize,
  series:[["new",p5_new.concat(parseCols(p5_core))],["nomad",p5_nomad],["zib",p5_zib],["csiro",p5_csiro],["sval",p5_sval],["babin",p5_babin],["bio",p5_bio],["cast",p5_cast],["mouw",p5_mouw],["moradi",p5_moradi]],
  ylab:[["a",""],["NAP","sub"],["(440)/a",""],["ph","sub"],["(440)",""]],xlab:[["a",""],["ph","sub"],["(440) (m",""],["-1","sup"],[")",""]],ylx:667,xly:1034}
];

function richText(parent,parts,size){
  let shift=0;
  parts.forEach(([t,k])=>{
    const ts=el('tspan',{},parent);
    let target=k==="sub"?size*0.42:(k==="sup"?-size*0.45:0);
    ts.setAttribute('dy',(target-shift).toFixed(1));
    shift=target;
    if(k)ts.setAttribute('font-size',(size*0.72).toFixed(1));
    ts.textContent=t;
  });
}
function marker(g,kind,x,y,size){
  const st=ST[kind];let m;
  if(st.shape==="dot"){m=el('circle',{cx:x,cy:y,r:3.6,fill:"#000"},g);}
  else if(st.shape==="c"){m=el('circle',{cx:x,cy:y,r:size,fill:st.c,stroke:"#000","stroke-width":1},g);}
  else{m=el('rect',{x:x-size,y:y-size,width:2*size,height:2*size,fill:st.c,stroke:"#000","stroke-width":1},g);}
  return m;
}

panels.forEach(p=>{
  const g=el('g',{});
  
  
  const sx=v=>p.L+(v-p.xd[0])/(p.xd[1]-p.xd[0])*(p.R-p.L);
  const sy=v=>p.B-(v-p.yd[0])/(p.yd[1]-p.yd[0])*(p.B-p.T);
  el('rect',{x:p.L,y:p.T,width:p.R-p.L,height:p.B-p.T,fill:"#fff"},g);
  const grid=el('g',{},g);
  
  
  for(let d=Math.floor(p.xd[0]);d<=Math.ceil(p.xd[1]);d++){
    for(let m=1;m<10;m++){const v=d+Math.log10(m);if(v<=p.xd[0]||v>=p.xd[1])continue;const x=sx(v);
      if(m===1){el('line',{x1:x,x2:x,y1:p.T,y2:p.B,stroke:"#e3e3e3","stroke-width":1.4},grid);
        el('line',{x1:x,x2:x,y1:p.B,y2:p.B-7,stroke:TXT,"stroke-width":1},grid);el('line',{x1:x,x2:x,y1:p.T,y2:p.T+7,stroke:TXT,"stroke-width":1},grid);}
      else{el('line',{x1:x,x2:x,y1:p.T,y2:p.B,stroke:"#d6d6d6","stroke-width":0.8,"stroke-dasharray":"1.5 2.5"},grid);
        el('line',{x1:x,x2:x,y1:p.B,y2:p.B-3.5,stroke:TXT,"stroke-width":0.8},grid);el('line',{x1:x,x2:x,y1:p.T,y2:p.T+3.5,stroke:TXT,"stroke-width":0.8},grid);}
    }
  }
  for(let d=Math.floor(p.yd[0]);d<=Math.ceil(p.yd[1]);d++){
    for(let m=1;m<10;m++){const v=d+Math.log10(m);if(v<=p.yd[0]||v>=p.yd[1])continue;const y=sy(v);
      if(m===1){el('line',{x1:p.L,x2:p.R,y1:y,y2:y,stroke:"#e3e3e3","stroke-width":1.4},grid);
        el('line',{x1:p.L,x2:p.L+7,y1:y,y2:y,stroke:TXT,"stroke-width":1},grid);el('line',{x1:p.R,x2:p.R-7,y1:y,y2:y,stroke:TXT,"stroke-width":1},grid);}
      else{el('line',{x1:p.L,x2:p.R,y1:y,y2:y,stroke:"#d6d6d6","stroke-width":0.8,"stroke-dasharray":"1.5 2.5"},grid);
        el('line',{x1:p.L,x2:p.L+3.5,y1:y,y2:y,stroke:TXT,"stroke-width":0.8},grid);el('line',{x1:p.R,x2:p.R-3.5,y1:y,y2:y,stroke:TXT,"stroke-width":0.8},grid);}
    }
  }
  p.series.forEach(([kind,data])=>{
    const sg=el('g',{},g);
    
    
    data.forEach(([vx,vy])=>{
      const m=marker(sg,kind,sx(vx),sy(vy),p.size[kind]);
      
      
    });
  });
  const box=el('rect',{x:p.L,y:p.T,width:p.R-p.L,height:p.B-p.T,fill:"none",stroke:"#262626","stroke-width":1.2},g);
  
  
  p.xt.forEach(v=>{
    const t=el('text',{x:sx(v),y:p.B+56,"text-anchor":"middle","font-size":25,fill:TXT},g);
    
    
    richText(t,[["10",""],[String(v),"sup"]],25);
  });
  p.yt.forEach(v=>{
    const t=el('text',{x:p.L-8,y:sy(v)+10,"text-anchor":"end","font-size":25,fill:TXT},g);
    
    
    richText(t,[["10",""],[String(v),"sup"]],25);
  });
  const xl=el('text',{x:(p.L+p.R)/2,y:p.xly,"text-anchor":"middle","font-size":30,fill:TXT},g);
  
  
  richText(xl,p.xlab,30);
  const cy=(p.T+p.B)/2;
  const yl=el('text',{x:0,y:0,"text-anchor":"middle","font-size":30,fill:TXT,transform:`translate(${p.ylx+10},${cy}) rotate(-90)`},g);
  
  
  richText(yl,p.ylab,30);
});

// legend
const lg=el('g',{});


el('rect',{x:1431,y:549,width:288,height:370,fill:"#fff",stroke:"#262626","stroke-width":1.2},lg);
const legKinds=["new","nomad","csiro","cast","zib","bio","babin","sval","mouw","moradi"];
const legSize={nomad:4.8,csiro:7.5,cast:8,zib:5,bio:8,babin:5.5,sval:5.5,mouw:6,moradi:6};
legKinds.forEach((k,i)=>{
  const y=571+i*36.8;
  const eg=el('g',{},lg);
  
  
  const m=marker(eg,k,1462,y,legSize[k]);
  if(k==="new")m.setAttribute('r',2);
  const t=el('text',{x:1509,y:y+9,"font-size":25,fill:"#000"},eg);
  t.textContent=legendLabels[i];
});
</script>
</body></html>
